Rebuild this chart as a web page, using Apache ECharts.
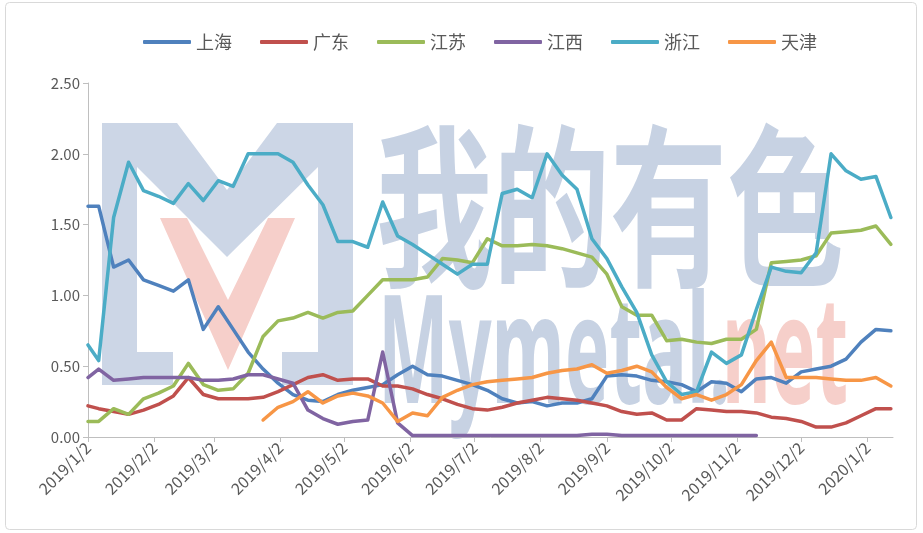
<!DOCTYPE html>
<html>
<head>
<meta charset="utf-8">
<title>chart</title>
<script src="https://cdn.jsdelivr.net/npm/echarts@6/dist/echarts.min.js"></script>
<style>
  html, body { margin: 0; padding: 0; background: #fff; }
  #main { width: 923px; height: 533px; }
</style>
</head>
<body>
<div id="main"></div>
<script>
// weekly dates (first point 2019/1/2, then Mondays)
var dates = ['2019/1/2','2019/1/7','2019/1/14','2019/1/21','2019/1/28','2019/2/4','2019/2/11','2019/2/18','2019/2/25',
  '2019/3/4','2019/3/11','2019/3/18','2019/3/25','2019/4/1','2019/4/8','2019/4/15','2019/4/22','2019/4/29',
  '2019/5/6','2019/5/13','2019/5/20','2019/5/27','2019/6/3','2019/6/10','2019/6/17','2019/6/24',
  '2019/7/1','2019/7/8','2019/7/15','2019/7/22','2019/7/29','2019/8/5','2019/8/12','2019/8/19','2019/8/26',
  '2019/9/2','2019/9/9','2019/9/16','2019/9/23','2019/9/30','2019/10/7','2019/10/14','2019/10/21','2019/10/28',
  '2019/11/4','2019/11/11','2019/11/18','2019/11/25','2019/12/2','2019/12/9','2019/12/16','2019/12/23','2019/12/30',
  '2020/1/6','2020/1/13'];

var tickDates = ['2019/1/2','2019/2/2','2019/3/2','2019/4/2','2019/5/2','2019/6/2','2019/7/2',
  '2019/8/2','2019/9/2','2019/10/2','2019/11/2','2019/12/2','2020/1/2'];

var names = ['上海','广东','江苏','江西','浙江','天津'];

var shanghai = [1.63,1.63,1.20,1.25,1.11,1.07,1.03,1.11,0.76,0.92,0.76,0.60,0.48,0.38,0.30,0.26,0.25,0.30,0.33,0.35,
  0.37,0.44,0.50,0.44,0.43,0.40,0.37,0.33,0.27,0.24,0.25,0.22,0.24,0.24,0.27,0.43,0.44,0.43,0.40,0.39,
  0.37,0.32,0.39,0.38,0.32,0.41,0.42,0.38,0.46,0.48,0.50,0.55,0.67,0.76,0.75];

var guangdong = [0.22,0.20,0.18,0.16,0.19,0.23,0.29,0.42,0.30,0.27,0.27,0.27,0.28,0.32,0.37,0.42,0.44,0.40,0.41,0.41,
  0.36,0.36,0.34,0.30,0.27,0.23,0.20,0.19,0.21,0.24,0.26,0.28,0.27,0.26,0.24,0.22,0.18,0.16,0.17,0.12,
  0.12,0.20,0.19,0.18,0.18,0.17,0.14,0.13,0.11,0.07,0.07,0.10,0.15,0.20,0.20];

var jiangsu = [0.11,0.11,0.20,0.16,0.27,0.31,0.36,0.52,0.37,0.33,0.34,0.45,0.71,0.82,0.84,0.88,0.84,0.88,0.89,1.00,
  1.11,1.11,1.11,1.13,1.26,1.25,1.23,1.40,1.35,1.35,1.36,1.35,1.33,1.30,1.27,1.15,0.92,0.86,0.86,0.68,
  0.69,0.67,0.66,0.69,0.69,0.76,1.23,1.24,1.25,1.28,1.44,1.45,1.46,1.49,1.36];

var jiangxi = [0.42,0.48,0.40,0.41,0.42,0.42,0.42,0.42,0.40,0.40,0.41,0.44,0.44,0.41,0.38,0.19,0.13,0.09,0.11,0.12,
  0.60,0.10,0.01,0.01,0.01,0.01,0.01,0.01,0.01,0.01,0.01,0.01,0.01,0.01,0.02,0.02,0.01,0.01,0.01,0.01,
  0.01,0.01,0.01,0.01,0.01,0.01,null,null,null,null,null,null,null,null,null];

var zhejiang = [0.65,0.54,1.55,1.94,1.74,1.70,1.65,1.79,1.67,1.81,1.77,2.00,2.00,2.00,1.94,1.78,1.64,1.38,1.38,1.34,
  1.66,1.42,1.36,1.29,1.22,1.15,1.22,1.22,1.72,1.75,1.69,2.00,1.85,1.75,1.40,1.26,1.06,0.88,0.58,0.39,
  0.30,0.32,0.60,0.52,0.58,0.90,1.20,1.17,1.16,1.30,2.00,1.88,1.82,1.84,1.55];

var tianjin = [null,null,null,null,null,null,null,null,null,null,null,null,0.12,0.21,0.25,0.32,0.24,0.29,0.31,0.29,
  0.24,0.11,0.17,0.15,0.28,0.33,0.37,0.39,0.40,0.41,0.42,0.45,0.47,0.48,0.51,0.45,0.47,0.50,0.46,0.35,
  0.27,0.30,0.26,0.30,0.37,0.54,0.67,0.42,0.42,0.42,0.41,0.40,0.40,0.42,0.36];

var colors = ['#4f81bd','#c0504d','#9bbb59','#8064a2','#4bacc6','#f79646'];

// '2019/1/2' -> timestamp (local time)
function toTime(s) {
  var p = s.split('/');
  return new Date(+p[0], +p[1] - 1, +p[2]).getTime();
}

function pairs(vals) {
  return dates.map(function (d, i) { return [toTime(d), vals[i]]; });
}

function line(name, vals) {
  return {
    name: name,
    type: 'line',
    data: pairs(vals),
    showSymbol: false,
    connectNulls: false,
    lineStyle: { width: 3.5, cap: 'round', join: 'round' }
  };
}

var tickTimes = tickDates.map(toTime);

var wmBlue = '#c7d2e3';
var wmPink = '#f6cfca';

var chart = echarts.init(document.getElementById('main'));
chart.setOption({
  color: colors,
  animation: false,
  textStyle: { fontFamily: '"Noto Sans CJK SC", "Noto Sans", sans-serif' },
  legend: {
    data: names,
    top: 28,
    left: 138,
    icon: 'roundRect',
    itemWidth: 48,
    itemHeight: 4,
    itemGap: 28,
    textStyle: { fontSize: 18, color: '#595959' }
  },
  grid: { left: 88, right: 30, top: 83, bottom: 96 },
  graphic: [
    { type: 'rect', z: -10, silent: true,
      shape: { x: 5.5, y: 2.5, width: 911, height: 527, r: 4 },
      style: { fill: 'none', stroke: '#d9d9d9', lineWidth: 1 } },
    // watermark logo
    { type: 'polygon', z: -5, silent: true,
      shape: { points: [[160,218],[187,218],[228,300],[268,218],[295,218],[228,370]] },
      style: { fill: wmPink } },
    { type: 'polygon', z: -4, silent: true,
      shape: { points: [[102,123],[177,123],[227,190],[277,123],[353,123],[353,385],[282,385],[282,352],
        [318,352],[318,167],[227,257],[137,167],[137,352],[173,352],[173,385],[102,385]] },
      style: { fill: wmBlue, opacity: 0.9 } },
    { type: 'text', z: -4, silent: true, x: 376, y: 206, scaleY: 1.5,
      style: { text: '我的有色', fontSize: 117, fontWeight: 'bold', fontFamily: 'Noto Sans CJK SC', fill: wmBlue,
        verticalAlign: 'middle', align: 'left' } },
    { type: 'text', z: -4, silent: true, x: 378, y: 360, scaleX: 0.5,
      style: { text: 'Mymetal.', fontSize: 150, fontWeight: 'bold', fontFamily: 'Noto Sans', fill: wmBlue,
        verticalAlign: 'middle', align: 'left' } },
    { type: 'text', z: -4, silent: true, x: 722, y: 360, scaleX: 0.5,
      style: { text: 'net', fontSize: 150, fontWeight: 'bold', fontFamily: 'Noto Sans', fill: wmPink,
        verticalAlign: 'middle', align: 'left' } }
  ],
  xAxis: {
    type: 'value',
    min: toTime('2019/1/2'),
    max: toTime('2020/1/14'),
    axisLine: { show: true, onZero: false, lineStyle: { color: '#bfbfbf', width: 1 } },
    axisTick: { show: true, length: 5, customValues: tickTimes, lineStyle: { color: '#bfbfbf' } },
    splitLine: { show: false },
    axisLabel: {
      customValues: tickTimes,
      rotate: 45,
      fontSize: 16,
      color: '#595959',
      margin: 8,
      formatter: function (v) {
        var d = new Date(v);
        return d.getFullYear() + '/' + (d.getMonth() + 1) + '/' + d.getDate();
      }
    }
  },
  yAxis: {
    type: 'value',
    min: 0,
    max: 2.5,
    interval: 0.5,
    axisLine: { show: true, lineStyle: { color: '#bfbfbf', width: 1 } },
    axisTick: { show: true, length: 5, lineStyle: { color: '#bfbfbf' } },
    splitLine: { show: false },
    axisLabel: {
      fontSize: 15,
      color: '#595959',
      margin: 8,
      formatter: function (v) { return v.toFixed(2); }
    }
  },
  series: [
    line('上海', shanghai),
    line('广东', guangdong),
    line('江苏', jiangsu),
    line('江西', jiangxi),
    line('浙江', zhejiang),
    line('天津', tianjin)
  ]
});
</script>
</body>
</html>
